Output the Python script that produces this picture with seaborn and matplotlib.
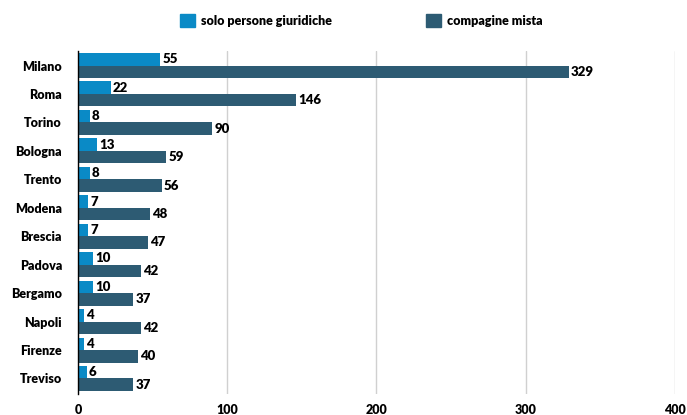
import pandas as pd
import matplotlib.pyplot as plt
import seaborn as sns
from matplotlib.patches import Patch

# Values
cities = ['Milano', 'Roma', 'Torino', 'Bologna', 'Trento', 'Modena',
          'Brescia', 'Padova', 'Bergamo', 'Napoli', 'Firenze', 'Treviso']
solo_giuridiche = [55, 22, 8, 13, 8, 7, 7, 10, 10, 4, 4, 6]
compagine_mista = [329, 146, 90, 59, 56, 48, 47, 42, 37, 42, 40, 37]
series_names = ['solo persone giuridiche', 'compagine mista']
colors = ['#0A8AC6', '#2D5B73']

df = pd.DataFrame({
    'city': cities * 2,
    'value': solo_giuridiche + compagine_mista,
    'serie': [series_names[0]] * len(cities) + [series_names[1]] * len(cities),
})

sns.set_style('white')
plt.rcParams['font.family'] = ['Lato', 'DejaVu Sans']
plt.rcParams['font.weight'] = 'heavy'
plt.rcParams['text.color'] = 'black'
plt.rcParams['xtick.color'] = 'black'
plt.rcParams['ytick.color'] = 'black'

fig = plt.figure(figsize=(6.87, 4.15), dpi=100)
ax = fig.add_axes([0.1135, 0.0506, 0.869, 0.8265])

sns.barplot(data=df, x='value', y='city', hue='serie', orient='h',
            palette=colors, width=0.88, ax=ax, legend=False,
            saturation=1, linewidth=0)

for cont in ax.containers:
    ax.bar_label(cont, fmt='%d', padding=1.5, fontsize=9.5, fontweight='heavy')

ax.set_xlim(0, 400)
ax.set_ylim(11.545, -0.51)
ax.set_xticks([0, 100, 200, 300, 400])
ax.xaxis.grid(True, color='#d0d0d0', linewidth=1)
ax.set_axisbelow(True)
for side in ['top', 'right', 'bottom']:
    ax.spines[side].set_visible(False)
ax.spines['left'].set_color('black')
ax.spines['left'].set_linewidth(1)
ax.tick_params(axis='both', length=0, labelsize=9)
ax.tick_params(axis='y', pad=11.5)
ax.tick_params(axis='x', pad=7.5)
ax.set_xlabel('')
ax.set_ylabel('')

handles = [Patch(color=c) for c in colors]
fig.legend(handles, series_names, loc='center', bbox_to_anchor=(0.5255, 0.951),
           ncol=2, frameon=False, fontsize=9, handlelength=1.2, handleheight=1.2,
           handletextpad=0.5, columnspacing=7.5)

fig.savefig('out.png', dpi=100)
